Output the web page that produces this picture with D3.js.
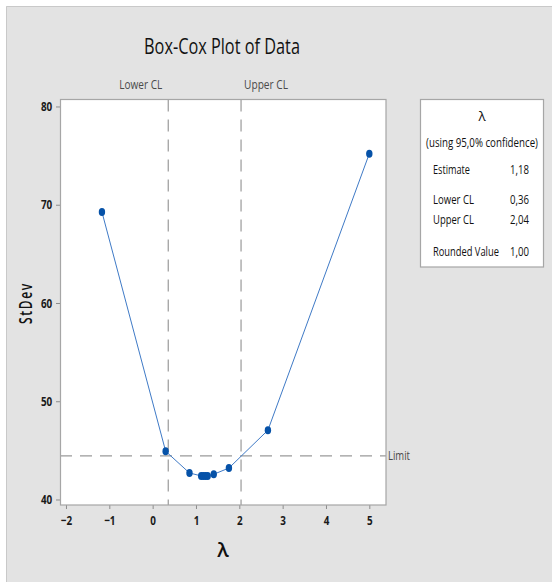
<!DOCTYPE html>
<html>
<head>
<meta charset="utf-8">
<script src="https://cdn.jsdelivr.net/npm/d3@7"></script>
<style>
  html, body { margin: 0; padding: 0; background: #ffffff; }
  svg { display: block; }
  text { font-family: "Open Sans", "Noto Sans", sans-serif; }
</style>
</head>
<body>
<svg id="chart" width="552" height="582"></svg>
<script>
// ---- data ----
const lambdas = [-1.17, 0.30, 0.85, 1.12, 1.17, 1.22, 1.27, 1.41, 1.76, 2.66, 5.00];
const stdevs  = [69.26, 44.91, 42.70, 42.40, 42.38, 42.38, 42.40, 42.57, 43.20, 47.05, 75.20];
const xTicks = [-2, -1, 0, 1, 2, 3, 4, 5];
const yTicks = [40, 50, 60, 70, 80];
const lowerCL = 0.36;
const upperCL = 2.04;
const limitValue = 44.43;
const legendLabels = ["Estimate", "Lower CL", "Upper CL", "Rounded Value"];
const legendValues = ["1,18", "0,36", "2,04", "1,00"];

const svg = d3.select("#chart");

// text drawn in a narrow style: horizontally scaled group so that it takes `width` px
function narrowText(parent, px, py, str, opts) {
  const g = parent.append("g");
  const t = g.append("text").attr("x", 0).attr("y", 0)
    .attr("text-anchor", opts.anchor || "start")
    .attr("font-size", opts.size || 12)
    .attr("font-weight", opts.weight || "normal")
    .attr("fill", opts.fill || "#111")
    .attr("letter-spacing", opts.spacing || 0)
    .text(str);
  const natural = t.node().getComputedTextLength();
  const sx = opts.width ? opts.width / natural : (opts.sx || 0.8);
  g.attr("transform", `translate(${px},${py}) rotate(${opts.rotate || 0}) scale(${sx},1)`);
  return g;
}

// ---- layout ----
const plot = { left: 60, top: 99.5, right: 386, bottom: 505 };

svg.append("rect").attr("x", 6).attr("y", 6).attr("width", 546).attr("height", 576)
  .attr("fill", "#e3e3e3");
svg.append("path").attr("d", "M6.5,582 V6.5 H552").attr("fill", "none")
  .attr("stroke", "#c9c9c9").attr("stroke-width", 1);

const x = d3.scaleLinear().domain([-2.138, 5.385]).range([plot.left, plot.right]);
const y = d3.scaleLinear().domain([39.44, 80.71]).range([plot.bottom, plot.top]);

// plot background
svg.append("rect").attr("x", plot.left).attr("y", plot.top)
  .attr("width", plot.right - plot.left).attr("height", plot.bottom - plot.top)
  .attr("fill", "#ffffff");

// title
narrowText(svg, 222, 54, "Box-Cox Plot of Data", { size: 21, anchor: "middle", width: 156 });

// axes
const xAxis = svg.append("g").attr("transform", `translate(0,${plot.bottom})`)
  .call(d3.axisBottom(x).tickValues(xTicks).tickSize(4).tickPadding(7).tickFormat(d3.format("d")));
const yAxis = svg.append("g").attr("transform", `translate(${plot.left},0)`)
  .call(d3.axisLeft(y).tickValues(yTicks).tickSize(4).tickPadding(4).tickFormat(d3.format("d")));
[xAxis, yAxis].forEach(g => {
  g.select(".domain").remove();
  g.selectAll(".tick line").attr("stroke", "#8c8c8c");
  g.selectAll(".tick text").attr("font-size", 13).attr("font-weight", "bold")
    .attr("fill", "#1a1a1a");
});
xAxis.selectAll(".tick text").attr("transform", "scale(0.76,1)");
yAxis.selectAll(".tick text").attr("transform", "translate(-7,0) scale(0.76,1) translate(7,0)");

// reference lines
const dash = "12,8";
svg.append("line").attr("x1", plot.left).attr("x2", plot.right)
  .attr("y1", y(limitValue)).attr("y2", y(limitValue))
  .attr("stroke", "#9a9a9a").attr("stroke-width", 1.2).attr("stroke-dasharray", dash);
[lowerCL, upperCL].forEach(v => {
  svg.append("line").attr("x1", x(v)).attr("x2", x(v))
    .attr("y1", plot.top).attr("y2", plot.bottom)
    .attr("stroke", "#9a9a9a").attr("stroke-width", 1.2).attr("stroke-dasharray", dash);
});

// reference labels
narrowText(svg, x(lowerCL) - 6, 89, "Lower CL", { size: 13, anchor: "end", fill: "#4a4a4a", width: 43 });
narrowText(svg, x(upperCL) + 3, 89, "Upper CL", { size: 13, anchor: "start", fill: "#4a4a4a", width: 44 });
narrowText(svg, plot.right + 2, y(limitValue) + 4, "Limit", { size: 13, fill: "#4a4a4a", width: 22 });

// data line + markers
const pts = lambdas.map((l, i) => [l, stdevs[i]]);
svg.append("path").datum(pts)
  .attr("d", d3.line().x(d => x(d[0])).y(d => y(d[1])))
  .attr("fill", "none").attr("stroke", "#3f7ac6").attr("stroke-width", 1);
svg.append("g").selectAll("ellipse").data(pts).join("ellipse")
  .attr("cx", d => x(d[0])).attr("cy", d => y(d[1]))
  .attr("rx", 3.2).attr("ry", 4)
  .attr("fill", "#0652a8");

// plot border
svg.append("rect").attr("x", plot.left + 0.5).attr("y", plot.top)
  .attr("width", plot.right - plot.left - 0.5).attr("height", plot.bottom - plot.top)
  .attr("fill", "none").attr("stroke", "#a6a6a6").attr("stroke-width", 1.2);

// axis titles
svg.append("text").attr("x", 223).attr("y", 557).attr("text-anchor", "middle")
  .attr("font-size", 20).attr("font-weight", 600).attr("fill", "#111").text("λ");
narrowText(svg, 32, 302 + 1, "StDev", { size: 18, weight: 600, anchor: "middle", spacing: 2.5, rotate: -90, width: 42 });

// legend box
const lg = { left: 420, top: 99.5, right: 543, bottom: 267 };
svg.append("rect").attr("x", lg.left + 0.5).attr("y", lg.top)
  .attr("width", lg.right - lg.left).attr("height", lg.bottom - lg.top)
  .attr("fill", "#ffffff").attr("stroke", "#a6a6a6").attr("stroke-width", 1.2);
const lcx = (lg.left + lg.right) / 2 + 0.5;
svg.append("text").attr("x", lcx).attr("y", 121).attr("text-anchor", "middle")
  .attr("font-size", 13.5).attr("fill", "#111").text("λ");
narrowText(svg, lcx, 146.5, "(using 95,0% confidence)", { size: 13, anchor: "middle", width: 112 });
const rowY = [173.5, 203.5, 223.5, 255.5];
const labelW = [37, 41, 41, 66];
legendLabels.forEach((t, i) => {
  narrowText(svg, 433, rowY[i], t, { size: 13, width: labelW[i] });
  narrowText(svg, 529, rowY[i], legendValues[i], { size: 13, anchor: "end", width: 19 });
});
</script>
</body>
</html>
